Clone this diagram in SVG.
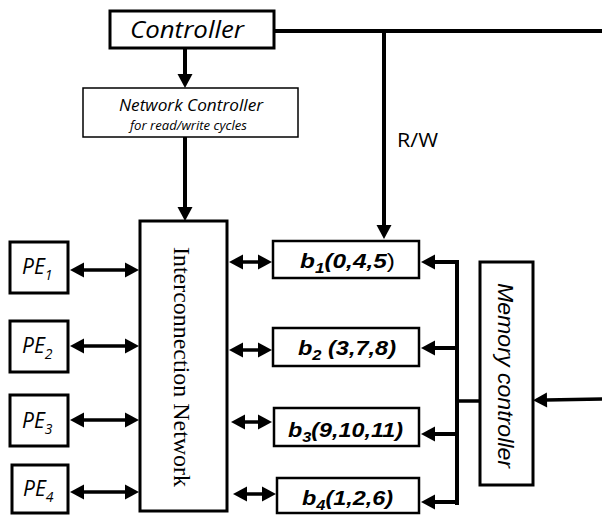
<svg xmlns="http://www.w3.org/2000/svg" width="602" height="515" viewBox="0 0 602 515">
<style>
.box{fill:#fff;stroke:#000;stroke-width:3}
.thin{fill:#fff;stroke:#000;stroke-width:1.5}
.bb{fill:#fff;stroke:#000;stroke-width:2.5}
.ln{fill:none;stroke:#000;stroke-width:4}
.ln3{fill:none;stroke:#000;stroke-width:3.5}
.os{font-family:"Open Sans","Liberation Sans",sans-serif;fill:#000}
.it{font-style:italic}
.bt{font-family:"Liberation Sans",Arial,sans-serif;font-weight:bold;font-style:italic;font-size:20px;fill:#000}
.serif{font-family:"Liberation Serif","Times New Roman",serif;font-size:24px;fill:#000}
.mc{font-family:"Liberation Sans",Arial,sans-serif;font-style:italic;font-size:22px;fill:#000}
</style>
<defs>
<marker id="ah" markerUnits="userSpaceOnUse" markerWidth="16" markerHeight="16" refX="1" refY="7.5" orient="auto-start-reverse" overflow="visible">
<path d="M0,0 L14,7.5 L0,15 z" fill="#000"/>
</marker>
</defs>

<g id="connectors">
<path class="ln" d="M185,49 V75" marker-end="url(#ah)"/>
<path class="ln" d="M185,137 V208" marker-end="url(#ah)"/>
<path class="ln" d="M274,31 H602"/>
<path class="ln" d="M384,31 V226" marker-end="url(#ah)"/>
<path class="ln3" d="M83,270 H126" marker-start="url(#ah)" marker-end="url(#ah)"/>
<path class="ln3" d="M83,346 H126" marker-start="url(#ah)" marker-end="url(#ah)"/>
<path class="ln3" d="M83,420 H126" marker-start="url(#ah)" marker-end="url(#ah)"/>
<path class="ln3" d="M83,492 H126" marker-start="url(#ah)" marker-end="url(#ah)"/>
<path class="ln3" d="M242,262 H259" marker-start="url(#ah)" marker-end="url(#ah)"/>
<path class="ln3" d="M242,350 H259" marker-start="url(#ah)" marker-end="url(#ah)"/>
<path class="ln3" d="M244,422 H259" marker-start="url(#ah)" marker-end="url(#ah)"/>
<path class="ln3" d="M246,494 H263" marker-start="url(#ah)" marker-end="url(#ah)"/>
<path class="ln" d="M457,505 V262 H434" marker-end="url(#ah)"/>
<path class="ln" d="M457,348 H434" marker-end="url(#ah)"/>
<path class="ln" d="M457,434 H434" marker-end="url(#ah)"/>
<path class="ln" d="M459,502 H434" marker-end="url(#ah)"/>
<path class="ln3" d="M457,401 H480"/>
<path class="ln3" d="M602,399 L546,400" marker-end="url(#ah)"/>
</g>

<text class="os" x="397" y="147" font-size="20" textLength="41" lengthAdjust="spacingAndGlyphs">R/W</text>

<g id="controller">
<rect class="box" x="110" y="11" width="164" height="37"/>
<text class="os it" x="130" y="38" font-size="24" textLength="114" lengthAdjust="spacingAndGlyphs">Controller</text>
</g>

<g id="network-controller">
<rect class="thin" x="83" y="88" width="215" height="49"/>
<text class="os it" x="119" y="111" font-size="17" textLength="144" lengthAdjust="spacingAndGlyphs">Network Controller</text>
<text class="os it" x="130" y="130" font-size="12.5" textLength="117" lengthAdjust="spacingAndGlyphs">for read/write cycles</text>
</g>

<g id="interconnection-network">
<rect class="box" x="140" y="221" width="87" height="290"/>
<text class="serif" transform="translate(174,367) rotate(90)" text-anchor="middle" textLength="240" lengthAdjust="spacingAndGlyphs">Interconnection Network</text>
</g>

<g id="pe1">
<rect class="box" x="10" y="242" width="58" height="51"/>
<text class="os it" x="22" y="274" font-size="21">PE<tspan font-size="14" dy="6">1</tspan></text>
</g>
<g id="pe2">
<rect class="box" x="10" y="321" width="58" height="51"/>
<text class="os it" x="22" y="353" font-size="21">PE<tspan font-size="14" dy="6">2</tspan></text>
</g>
<g id="pe3">
<rect class="box" x="10" y="395" width="58" height="51"/>
<text class="os it" x="22" y="428" font-size="21">PE<tspan font-size="14" dy="6">3</tspan></text>
</g>
<g id="pe4">
<rect class="box" x="12" y="465" width="56" height="48"/>
<text class="os it" x="23" y="496" font-size="21">PE<tspan font-size="14" dy="6">4</tspan></text>
</g>

<g id="b1">
<rect class="bb" x="273" y="241" width="146" height="37"/>
<text class="bt" x="300" y="268" textLength="95" lengthAdjust="spacingAndGlyphs">b<tspan font-size="14" dy="5">1</tspan><tspan dy="-5">(0,4,5</tspan><tspan font-weight="normal" font-style="normal">)</tspan></text>
</g>
<g id="b2">
<rect class="bb" x="273" y="328" width="146" height="38"/>
<text class="bt" x="298" y="355" textLength="98" lengthAdjust="spacingAndGlyphs">b<tspan font-size="14" dy="5">2</tspan><tspan dy="-5"> (3,7,8)</tspan></text>
</g>
<g id="b3">
<rect class="bb" x="274" y="408" width="145" height="38"/>
<text class="bt" x="288" y="437" textLength="115" lengthAdjust="spacingAndGlyphs">b<tspan font-size="14" dy="5">3</tspan><tspan dy="-5">(9,10,11)</tspan></text>
</g>
<g id="b4">
<rect class="bb" x="277" y="478" width="142" height="35"/>
<text class="bt" x="302" y="505" textLength="91" lengthAdjust="spacingAndGlyphs">b<tspan font-size="14" dy="5">4</tspan><tspan dy="-5">(1,2,6)</tspan></text>
</g>

<g id="memory-controller">
<rect class="box" x="480" y="262" width="53" height="223"/>
<text class="mc" transform="translate(498,375.5) rotate(90)" text-anchor="middle" textLength="185" lengthAdjust="spacingAndGlyphs">Memory controller</text>
</g>
</svg>
